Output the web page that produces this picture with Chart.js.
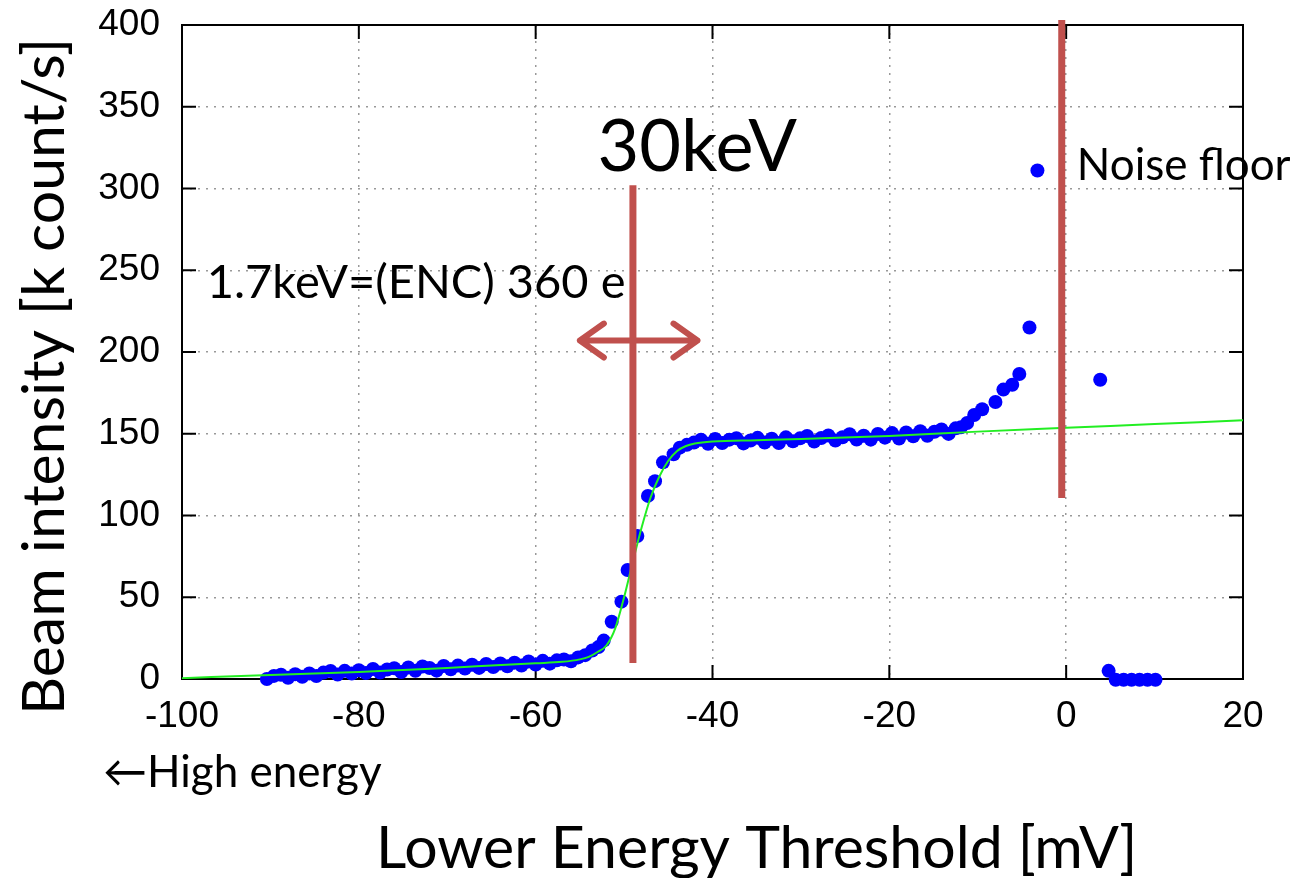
<!DOCTYPE html>
<html>
<head>
<meta charset="utf-8">
<script src="https://cdn.jsdelivr.net/npm/chart.js@4"></script>
<style>
  html, body { margin: 0; padding: 0; background: #fff; }
  #wrap { width: 1290px; height: 878px; }
</style>
</head>
<body>
<div id="wrap"><canvas id="chart"></canvas></div>
<script>
// measured points (threshold mV, k count/s)
const pointX = [
  -90.4, -89.6, -88.8, -88.0, -87.2, -86.4, -85.6, -84.8, -84.0, -83.2, -82.4, -81.6,
  -80.8, -80.0, -79.2, -78.4, -77.6, -76.8, -76.0, -75.2, -74.4, -73.6, -72.8, -72.0,
  -71.2, -70.4, -69.6, -68.8, -68.0, -67.2, -66.4, -65.6, -64.8, -64.0, -63.2, -62.4,
  -61.6, -60.8, -60.0, -59.2, -58.4, -57.6, -56.8, -56.0, -55.2, -54.4, -53.6, -52.9,
  -52.3, -51.4, -50.3, -49.6, -48.5, -47.3, -46.5, -45.6, -44.4, -43.7, -42.9, -42.1,
  -41.3, -40.5,
  -39.7, -38.9, -38.1, -37.3, -36.5, -35.7, -34.9, -34.1, -33.3, -32.5, -31.7, -30.9,
  -30.1, -29.3, -28.5, -27.7, -26.9, -26.1, -25.3, -24.5, -23.7, -22.9, -22.1, -21.3,
  -20.5, -19.7, -18.9, -18.1, -17.3, -16.5, -15.7, -14.9, -14.1, -13.3, -12.5, -11.9,
  -11.2, -10.4, -9.5, -8.0, -7.1, -6.1, -5.3, -4.15, -3.25,
  3.85, 4.8, 5.6, 6.5, 7.4, 8.3, 9.2, 10.1
];
const pointY = [
  0.0, 1.9, 2.6, 0.8, 2.9, 1.4, 3.4, 1.8, 3.9, 4.9, 2.7, 5.0,
  3.4, 5.4, 3.7, 6.1, 4.0, 5.8, 6.6, 4.3, 7.0, 5.0, 7.6, 6.7,
  5.1, 8.0, 6.0, 8.2, 6.4, 8.7, 6.8, 9.2, 7.3, 9.5, 7.8, 10.0,
  8.3, 10.7, 8.8, 11.1, 9.4, 11.4, 11.9, 10.8, 13.2, 14.6, 17.4, 19.5,
  23.5, 35, 47.3, 66.7, 87.5, 112, 121, 132.5, 137.5, 141.5, 143.2, 144.6,
  146.3, 143.9,
  146.8, 144.3, 146.4, 147.3, 144.1, 145.9, 147.5, 144.6, 146.9, 144.3, 147.8, 145.4,
  147.2, 148.6, 145.2, 147.4, 148.9, 145.9, 147.9, 149.7, 146.5, 148.8, 146.4, 149.9,
  147.6, 150.4, 147.1, 150.8, 148.4, 151.6, 148.8, 151.2, 152.6, 149.9, 153.3, 153.9,
  156.6, 161.5, 165, 169.4, 177, 180, 186.5, 215, 311,
  183, 5, -0.5, -0.5, -0.5, -0.5, -0.5, -0.5
];

// fitted curve
const fitX = [-100, -90, -80, -75, -70, -65, -60, -57, -55, -54, -53, -52, -51, -50, -49,
  -48, -47, -46, -45, -44, -43, -42, -40, -35, -30, -20, -10, 0, 10, 20];
const fitY = [0.5, 2.5, 4.3, 5.5, 6.8, 8.2, 9.6, 10.5, 12, 13.5, 16.5, 20.5, 31, 50, 72,
  93, 111, 124, 133.5, 139.5, 142.5, 144, 145.2, 146, 146.8, 148.6, 151.3, 153.6, 155.9, 158.2];

// red markers
const cutLineX = [-49, -49];
const cutLineY = [9.8, 302];
const noiseLineX = [-0.5, -0.5];
const noiseLineY = [110.7, 403];
const arrowX = [-55, -41.7];
const arrowY = 207;

const xTicks = [-100, -80, -60, -40, -20, 0, 20];
const yTicks = [0, 50, 100, 150, 200, 250, 300, 350, 400];

const labels = [
  { text: '30keV', x: -53.0, y: 325, size: 72 },
  { text: 'Noise floor', x: 1.2, y: 314, size: 44 },
  { text: '1.7keV=(ENC) 360 e', x: -97.2, y: 242, size: 47 }
];

const RED = '#c0504d';
const TXT = 'Lato, "Open Sans", sans-serif';

function zip(xs, ys) {
  return xs.map((x, i) => ({ x: x, y: ys[i] }));
}

const extras = {
  id: 'extras',
  beforeDatasetsDraw(chart) {
    const { ctx, chartArea: a, scales } = chart;
    ctx.save();
    ctx.strokeStyle = '#000';
    ctx.lineWidth = 2;
    ctx.strokeRect(a.left, a.top, a.right - a.left, a.bottom - a.top);
    // gnuplot style inner ticks
    ctx.beginPath();
    xTicks.forEach(v => {
      const px = scales.x.getPixelForValue(v);
      ctx.moveTo(px, a.bottom); ctx.lineTo(px, a.bottom - 14);
      ctx.moveTo(px, a.top); ctx.lineTo(px, a.top + 14);
    });
    yTicks.forEach(v => {
      const py = scales.y.getPixelForValue(v);
      ctx.moveTo(a.left, py); ctx.lineTo(a.left + 14, py);
      ctx.moveTo(a.right, py); ctx.lineTo(a.right - 14, py);
    });
    ctx.stroke();
    ctx.restore();
  },
  afterDatasetsDraw(chart) {
    const { ctx, chartArea: a, scales } = chart;
    const sx = scales.x, sy = scales.y;
    ctx.save();
    // double arrow
    const x1 = sx.getPixelForValue(arrowX[0]);
    const x2 = sx.getPixelForValue(arrowX[1]);
    const ay = sy.getPixelForValue(arrowY);
    ctx.strokeStyle = RED;
    ctx.lineWidth = 6;
    ctx.lineCap = 'round';
    ctx.lineJoin = 'round';
    ctx.beginPath();
    ctx.moveTo(x1, ay); ctx.lineTo(x2, ay);
    ctx.moveTo(x1 + 24, ay - 17); ctx.lineTo(x1, ay); ctx.lineTo(x1 + 24, ay + 17);
    ctx.moveTo(x2 - 24, ay - 17); ctx.lineTo(x2, ay); ctx.lineTo(x2 - 24, ay + 17);
    ctx.stroke();

    ctx.fillStyle = '#000';
    ctx.textAlign = 'left';
    ctx.textBaseline = 'middle';
    labels.forEach(l => {
      ctx.font = l.size + 'px ' + TXT;
      ctx.fillText(l.text, sx.getPixelForValue(l.x), sy.getPixelForValue(l.y));
    });

    // axis titles
    ctx.font = '44px ' + TXT;
    ctx.fillText('\u2190High energy', sx.getPixelForValue(-100) - 79, a.bottom + 94);
    ctx.font = '59px ' + TXT;
    ctx.textAlign = 'center';
    ctx.fillText('Lower Energy Threshold [mV]', sx.getPixelForValue(-35), a.bottom + 170);
    ctx.translate(45, sy.getPixelForValue(185));
    ctx.rotate(-Math.PI / 2);
    ctx.fillText('Beam intensity [k count/s]', 0, 0);
    ctx.restore();
  }
};

new Chart(document.getElementById('chart'), {
  type: 'scatter',
  data: {
    datasets: [
      {
        label: 'cut',
        data: zip(cutLineX, cutLineY),
        showLine: true,
        borderColor: RED,
        borderWidth: 7,
        pointRadius: 0,
        clip: false,
        order: 0
      },
      {
        label: 'noise',
        data: zip(noiseLineX, noiseLineY),
        showLine: true,
        borderColor: RED,
        borderWidth: 7,
        pointRadius: 0,
        clip: false,
        order: 0
      },
      {
        label: 'fit',
        data: zip(fitX, fitY),
        showLine: true,
        borderColor: '#22ee22',
        borderWidth: 2,
        pointRadius: 0,
        cubicInterpolationMode: 'monotone',
        order: 1
      },
      {
        label: 'data',
        data: zip(pointX, pointY),
        backgroundColor: '#0000ff',
        borderWidth: 0,
        pointRadius: 7,
        clip: false,
        order: 2
      }
    ]
  },
  options: {
    responsive: true,
    maintainAspectRatio: false,
    animation: false,
    layout: { padding: { top: 25, right: 47, left: 0, bottom: 0 } },
    plugins: {
      legend: { display: false },
      tooltip: { enabled: false }
    },
    scales: {
      x: {
        type: 'linear',
        min: -100,
        max: 20,
        afterFit: s => { s.height = 199; s.paddingLeft = 0; s.paddingRight = 0; },
        afterBuildTicks: s => { s.ticks = xTicks.map(v => ({ value: v })); },
        ticks: {
          color: '#000',
          padding: 16,
          maxRotation: 0,
          font: { family: '"Liberation Sans", Arial, sans-serif', size: 37 }
        },
        grid: { color: '#999', lineWidth: 1.5, drawTicks: false },
        border: { display: false, dash: [2, 6] }
      },
      y: {
        type: 'linear',
        min: 0,
        max: 400,
        afterFit: s => { s.width = 182; s.paddingTop = 0; s.paddingBottom = 0; },
        afterBuildTicks: s => { s.ticks = yTicks.map(v => ({ value: v })); },
        ticks: {
          color: '#000',
          padding: 22,
          font: { family: '"Liberation Sans", Arial, sans-serif', size: 37 }
        },
        grid: { color: '#999', lineWidth: 1.5, drawTicks: false },
        border: { display: false, dash: [2, 6] }
      }
    }
  },
  plugins: [extras]
});
</script>
</body>
</html>
